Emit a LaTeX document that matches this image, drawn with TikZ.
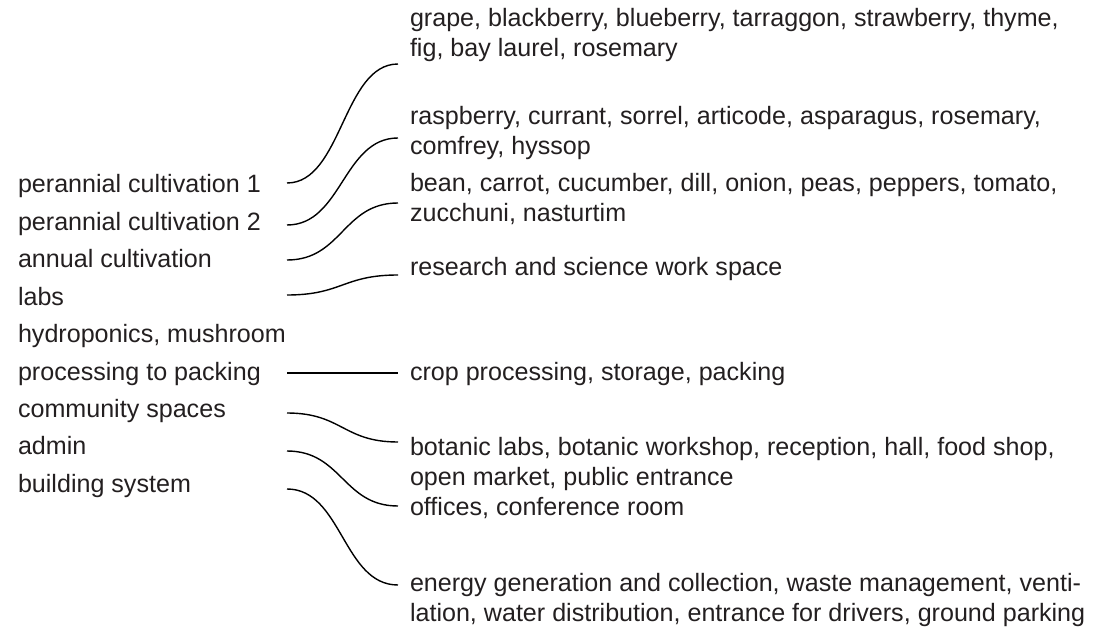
\documentclass[tikz,border=0pt]{standalone}
\usepackage{fontspec}
\setmainfont{Liberation Sans}
\usetikzlibrary{calc}
\definecolor{txt}{HTML}{231F20}
\tikzset{
  lbl/.style={anchor=base west,inner sep=0pt,outer sep=0pt,text=txt,align=left,font=\fontsize{25.1}{30}\selectfont},
  conn/.style={line width=1.4pt,black},
}
\begin{document}
\begin{tikzpicture}[x=1pt,y=-1pt]
\useasboundingbox (0,0) rectangle (1113,628);
% left labels
\node[lbl] (l1) at (18,193) {perannial cultivation 1};
\node[lbl] (l2) at (18,230.4) {perannial cultivation 2};
\node[lbl] (l3) at (18,267.8) {annual cultivation};
\node[lbl] (l4) at (18,305.2) {labs};
\node[lbl] (l5) at (18,342.6) {hydroponics, mushroom};
\node[lbl] (l6) at (18,380) {processing to packing};
\node[lbl] (l7) at (18,417.4) {community spaces};
\node[lbl] (l8) at (18,454.8) {admin};
\node[lbl] (l9) at (18,492.2) {building system};
% right labels (anchor = baseline of last line)
\node[lbl] (r1) at (410,56.5) {grape, blackberry, blueberry, tarraggon, strawberry, thyme,\\fig, bay laurel, rosemary};
\node[lbl] (r2) at (410,154.5) {raspberry, currant, sorrel, articode, asparagus, rosemary,\\comfrey, hyssop};
\node[lbl] (r3) at (410,221.5) {bean, carrot, cucumber, dill, onion, peas, peppers, tomato,\\zucchuni, nasturtim};
\node[lbl] (r4) at (410,275.5) {research and science work space};
\node[lbl] (r5) at (410,380) {crop processing, storage, packing};
\node[lbl] (r6) at (410,485.5) {botanic labs, botanic workshop, reception, hall, food shop,\\open market, public entrance};
\node[lbl] (r7) at (410,515.5) {offices, conference room};
\node[lbl] (r8) at (410,621.5) {energy generation and collection, waste management, venti-\\lation, water distribution, entrance for drivers, ground parking};
% connector ends
\coordinate (a1) at (287,183); \coordinate (b1) at (398,64);
\coordinate (a2) at (287,225); \coordinate (b2) at (398,138);
\coordinate (a3) at (287,260); \coordinate (b3) at (398,203);
\coordinate (a4) at (287,295); \coordinate (b4) at (398,275);
\coordinate (a6) at (287,373); \coordinate (b6) at (398,373);
\coordinate (a7) at (287,413); \coordinate (b7) at (398,442);
\coordinate (a8) at (287,451); \coordinate (b8) at (398,506);
\coordinate (a9) at (287,489); \coordinate (b9) at (398,585);
\foreach \i in {1,2,3,4,7,8,9}{
  \draw[conn] (a\i) .. controls ($(a\i)+(55,0)$) and ($(b\i)+(-55,0)$) .. (b\i);
}
\draw[conn] (a6) -- (b6);
\end{tikzpicture}
\end{document}
